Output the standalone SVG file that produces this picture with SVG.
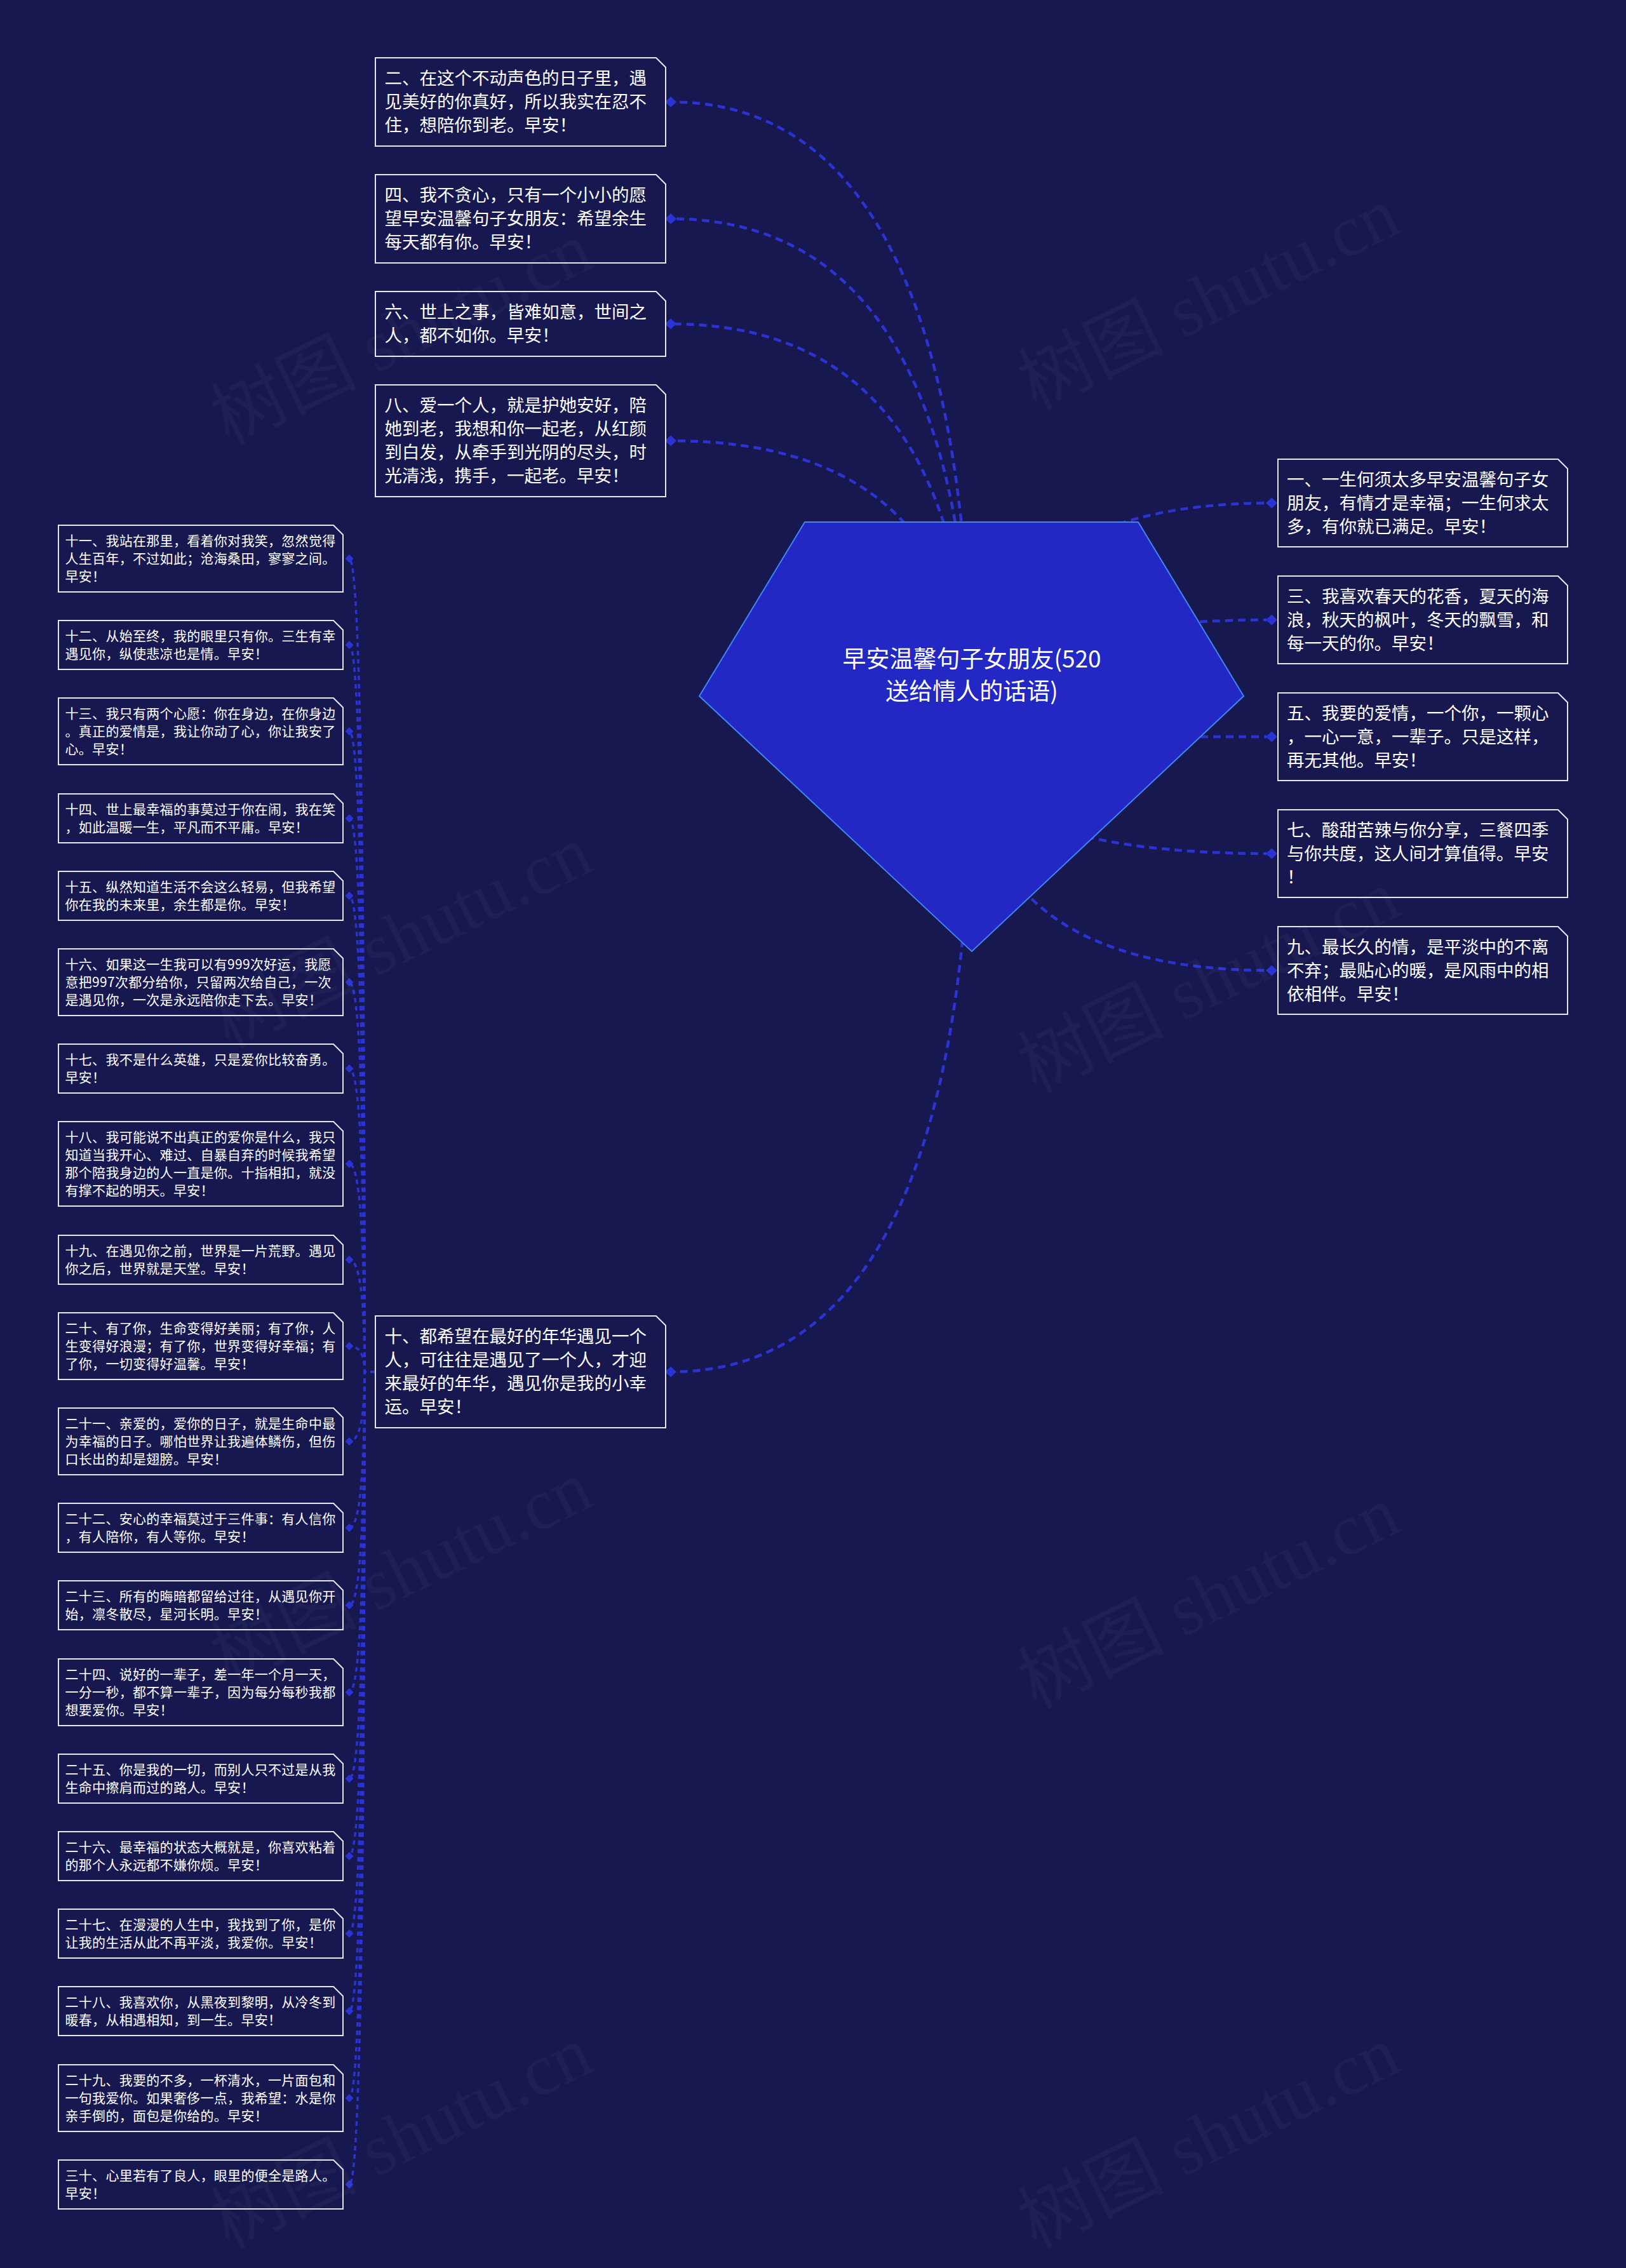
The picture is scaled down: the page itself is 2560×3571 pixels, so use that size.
<svg xmlns="http://www.w3.org/2000/svg" width="2560" height="3571" viewBox="0 0 2560 3571">
<defs>
<style>
.bg{fill:#17184f}
.c{fill:none;stroke:#2b33d2;stroke-width:4.5;stroke-dasharray:12 8}
.cs{fill:none;stroke:#2b33d2;stroke-width:3.5;stroke-dasharray:7 6}
.box{fill:#17184f;stroke:#e6e6ee;stroke-width:2}
.t{font-family:"Noto Sans CJK SC","Noto Sans",sans-serif;fill:#ffffff}
.tb{font-size:27.5px}
.ts{font-size:21px;letter-spacing:0.3px}
.tc{font-size:37px;text-anchor:middle}
.dm{fill:#2b33d2}
.wm{font-family:"Liberation Serif","Noto Sans CJK SC",serif;font-size:115px;fill:#ffffff;fill-opacity:0.03;text-anchor:middle}
</style>
<path id="db" d="M-9,0L0,-8.5L9,0L0,8.5Z"/>
<path id="ds" d="M-6.5,0L0,-6.5L6.5,0L0,6.5Z"/>
</defs>
<rect class="bg" x="0" y="0" width="2560" height="3571"/>

<g id="connectors">
<path class="c" d="M1530,1160 Q1530,160.5 1056,160.5"/>
<path class="c" d="M1530,1160 Q1530,344.5 1056,344.5"/>
<path class="c" d="M1530,1160 Q1530,510 1056,510"/>
<path class="c" d="M1530,1160 Q1530,694 1056,694"/>
<path class="c" d="M1530,1160 Q1530,2160 1056,2160"/>
<path class="c" d="M1530,1160 Q1530,792 2002,792"/>
<path class="c" d="M1530,1160 Q1530,976 2002,976"/>
<path class="c" d="M1530,1160 L2002,1160"/>
<path class="c" d="M1530,1160 Q1530,1344 2002,1344"/>
<path class="c" d="M1530,1160 Q1530,1528 2002,1528"/>
<path class="cs" d="M590,2160 L574,2160 Q574,879.5 550,879.5"/>
<path class="cs" d="M590,2160 L574,2160 Q574,1015.5 550,1015.5"/>
<path class="cs" d="M590,2160 L574,2160 Q574,1151.5 550,1151.5"/>
<path class="cs" d="M590,2160 L574,2160 Q574,1288.5 550,1288.5"/>
<path class="cs" d="M590,2160 L574,2160 Q574,1410.5 550,1410.5"/>
<path class="cs" d="M590,2160 L574,2160 Q574,1546.5 550,1546.5"/>
<path class="cs" d="M590,2160 L574,2160 Q574,1682.5 550,1682.5"/>
<path class="cs" d="M590,2160 L574,2160 Q574,1832.5 550,1832.5"/>
<path class="cs" d="M590,2160 L574,2160 Q574,1983.5 550,1983.5"/>
<path class="cs" d="M590,2160 L574,2160 Q574,2119.5 550,2119.5"/>
<path class="cs" d="M590,2160 L574,2160 Q574,2269.5 550,2269.5"/>
<path class="cs" d="M590,2160 L574,2160 Q574,2405.5 550,2405.5"/>
<path class="cs" d="M590,2160 L574,2160 Q574,2527.5 550,2527.5"/>
<path class="cs" d="M590,2160 L574,2160 Q574,2664.5 550,2664.5"/>
<path class="cs" d="M590,2160 L574,2160 Q574,2800.5 550,2800.5"/>
<path class="cs" d="M590,2160 L574,2160 Q574,2922.5 550,2922.5"/>
<path class="cs" d="M590,2160 L574,2160 Q574,3044.5 550,3044.5"/>
<path class="cs" d="M590,2160 L574,2160 Q574,3166.5 550,3166.5"/>
<path class="cs" d="M590,2160 L574,2160 Q574,3303.5 550,3303.5"/>
<path class="cs" d="M590,2160 L574,2160 Q574,3439.5 550,3439.5"/>
<g class="dm">
<use href="#db" x="1056" y="160.5"/>
<use href="#db" x="1056" y="344.5"/>
<use href="#db" x="1056" y="510"/>
<use href="#db" x="1056" y="694"/>
<use href="#db" x="1056" y="2160"/>
<use href="#db" x="2002" y="792"/>
<use href="#db" x="2002" y="976"/>
<use href="#db" x="2002" y="1160"/>
<use href="#db" x="2002" y="1344"/>
<use href="#db" x="2002" y="1528"/>
<use href="#ds" x="550" y="879.5"/>
<use href="#ds" x="550" y="1015.5"/>
<use href="#ds" x="550" y="1151.5"/>
<use href="#ds" x="550" y="1288.5"/>
<use href="#ds" x="550" y="1410.5"/>
<use href="#ds" x="550" y="1546.5"/>
<use href="#ds" x="550" y="1682.5"/>
<use href="#ds" x="550" y="1832.5"/>
<use href="#ds" x="550" y="1983.5"/>
<use href="#ds" x="550" y="2119.5"/>
<use href="#ds" x="550" y="2269.5"/>
<use href="#ds" x="550" y="2405.5"/>
<use href="#ds" x="550" y="2527.5"/>
<use href="#ds" x="550" y="2664.5"/>
<use href="#ds" x="550" y="2800.5"/>
<use href="#ds" x="550" y="2922.5"/>
<use href="#ds" x="550" y="3044.5"/>
<use href="#ds" x="550" y="3166.5"/>
<use href="#ds" x="550" y="3303.5"/>
<use href="#ds" x="550" y="3439.5"/>
</g>
</g>

<g id="center">
<polygon points="1267,822 1792,822 1958,1096 1530,1498 1101,1096" fill="#2328c4" stroke="#3f86f5" stroke-width="2"/>
<text class="t tc" x="1530" y="1051">早安温馨句子女朋友(520</text>
<text class="t tc" x="1530" y="1102">送给情人的话语)</text>
</g>

<g id="n2"><path class="box" d="M591,91H1033L1048,106V230H591Z"/>
<text class="t tb" x="605.5" y="133">二、在这个不动声色的日子里，遇</text>
<text class="t tb" x="605.5" y="170">见美好的你真好，所以我实在忍不</text>
<text class="t tb" x="605.5" y="207">住，想陪你到老。早安！</text></g>
<g id="n4"><path class="box" d="M591,275H1033L1048,290V414H591Z"/>
<text class="t tb" x="605.5" y="317">四、我不贪心，只有一个小小的愿</text>
<text class="t tb" x="605.5" y="354">望早安温馨句子女朋友：希望余生</text>
<text class="t tb" x="605.5" y="391">每天都有你。早安！</text></g>
<g id="n6"><path class="box" d="M591,459H1033L1048,474V561H591Z"/>
<text class="t tb" x="605.5" y="501">六、世上之事，皆难如意，世间之</text>
<text class="t tb" x="605.5" y="538">人，都不如你。早安！</text></g>
<g id="n8"><path class="box" d="M591,606H1033L1048,621V782H591Z"/>
<text class="t tb" x="605.5" y="648">八、爱一个人，就是护她安好，陪</text>
<text class="t tb" x="605.5" y="685">她到老，我想和你一起老，从红颜</text>
<text class="t tb" x="605.5" y="722">到白发，从牵手到光阴的尽头，时</text>
<text class="t tb" x="605.5" y="759">光清浅，携手，一起老。早安！</text></g>
<g id="n10"><path class="box" d="M591,2072H1033L1048,2087V2248H591Z"/>
<text class="t tb" x="605.5" y="2114">十、都希望在最好的年华遇见一个</text>
<text class="t tb" x="605.5" y="2151">人，可往往是遇见了一个人，才迎</text>
<text class="t tb" x="605.5" y="2188">来最好的年华，遇见你是我的小幸</text>
<text class="t tb" x="605.5" y="2225">运。早安！</text></g>

<g id="n1"><path class="box" d="M2012,723H2453L2468,738V861H2012Z"/>
<text class="t tb" x="2026" y="764.5">一、一生何须太多早安温馨句子女</text>
<text class="t tb" x="2026" y="801.5">朋友，有情才是幸福；一生何求太</text>
<text class="t tb" x="2026" y="838.5">多，有你就已满足。早安！</text></g>
<g id="n3"><path class="box" d="M2012,907H2453L2468,922V1045H2012Z"/>
<text class="t tb" x="2026" y="948.5">三、我喜欢春天的花香，夏天的海</text>
<text class="t tb" x="2026" y="985.5">浪，秋天的枫叶，冬天的飘雪，和</text>
<text class="t tb" x="2026" y="1022.5">每一天的你。早安！</text></g>
<g id="n5"><path class="box" d="M2012,1091H2453L2468,1106V1229H2012Z"/>
<text class="t tb" x="2026" y="1132.5">五、我要的爱情，一个你，一颗心</text>
<text class="t tb" x="2026" y="1169.5">，一心一意，一辈子。只是这样，</text>
<text class="t tb" x="2026" y="1206.5">再无其他。早安！</text></g>
<g id="n7"><path class="box" d="M2012,1275H2453L2468,1290V1413H2012Z"/>
<text class="t tb" x="2026" y="1316.5">七、酸甜苦辣与你分享，三餐四季</text>
<text class="t tb" x="2026" y="1353.5">与你共度，这人间才算值得。早安</text>
<text class="t tb" x="2026" y="1390.5">！</text></g>
<g id="n9"><path class="box" d="M2012,1459H2453L2468,1474V1597H2012Z"/>
<text class="t tb" x="2026" y="1500.5">九、最长久的情，是平淡中的不离</text>
<text class="t tb" x="2026" y="1537.5">不弃；最贴心的暖，是风雨中的相</text>
<text class="t tb" x="2026" y="1574.5">依相伴。早安！</text></g>

<g id="n11"><path class="box" d="M92,827H525L540,842V932H92Z"/>
<text class="t ts" x="102.5" y="859">十一、我站在那里，看着你对我笑，忽然觉得</text>
<text class="t ts" x="102.5" y="887">人生百年，不过如此；沧海桑田，寥寥之间。</text>
<text class="t ts" x="102.5" y="915">早安！</text></g>
<g id="n12"><path class="box" d="M92,977H525L540,992V1054H92Z"/>
<text class="t ts" x="102.5" y="1009">十二、从始至终，我的眼里只有你。三生有幸</text>
<text class="t ts" x="102.5" y="1037">遇见你，纵使悲凉也是情。早安！</text></g>
<g id="n13"><path class="box" d="M92,1099H525L540,1114V1204H92Z"/>
<text class="t ts" x="102.5" y="1131">十三、我只有两个心愿：你在身边，在你身边</text>
<text class="t ts" x="102.5" y="1159">。真正的爱情是，我让你动了心，你让我安了</text>
<text class="t ts" x="102.5" y="1187">心。早安！</text></g>
<g id="n14"><path class="box" d="M92,1250H525L540,1265V1327H92Z"/>
<text class="t ts" x="102.5" y="1282">十四、世上最幸福的事莫过于你在闹，我在笑</text>
<text class="t ts" x="102.5" y="1310">，如此温暖一生，平凡而不平庸。早安！</text></g>
<g id="n15"><path class="box" d="M92,1372H525L540,1387V1449H92Z"/>
<text class="t ts" x="102.5" y="1404">十五、纵然知道生活不会这么轻易，但我希望</text>
<text class="t ts" x="102.5" y="1432">你在我的未来里，余生都是你。早安！</text></g>
<g id="n16"><path class="box" d="M92,1494H525L540,1509V1599H92Z"/>
<text class="t ts" x="102.5" y="1526">十六、如果这一生我可以有999次好运，我愿</text>
<text class="t ts" x="102.5" y="1554">意把997次都分给你，只留两次给自己，一次</text>
<text class="t ts" x="102.5" y="1582">是遇见你，一次是永远陪你走下去。早安！</text></g>
<g id="n17"><path class="box" d="M92,1644H525L540,1659V1721H92Z"/>
<text class="t ts" x="102.5" y="1676">十七、我不是什么英雄，只是爱你比较奋勇。</text>
<text class="t ts" x="102.5" y="1704">早安！</text></g>
<g id="n18"><path class="box" d="M92,1766H525L540,1781V1899H92Z"/>
<text class="t ts" x="102.5" y="1798">十八、我可能说不出真正的爱你是什么，我只</text>
<text class="t ts" x="102.5" y="1826">知道当我开心、难过、自暴自弃的时候我希望</text>
<text class="t ts" x="102.5" y="1854">那个陪我身边的人一直是你。十指相扣，就没</text>
<text class="t ts" x="102.5" y="1882">有撑不起的明天。早安！</text></g>
<g id="n19"><path class="box" d="M92,1945H525L540,1960V2022H92Z"/>
<text class="t ts" x="102.5" y="1977">十九、在遇见你之前，世界是一片荒野。遇见</text>
<text class="t ts" x="102.5" y="2005">你之后，世界就是天堂。早安！</text></g>
<g id="n20"><path class="box" d="M92,2067H525L540,2082V2172H92Z"/>
<text class="t ts" x="102.5" y="2099">二十、有了你，生命变得好美丽；有了你，人</text>
<text class="t ts" x="102.5" y="2127">生变得好浪漫；有了你，世界变得好幸福；有</text>
<text class="t ts" x="102.5" y="2155">了你，一切变得好温馨。早安！</text></g>
<g id="n21"><path class="box" d="M92,2217H525L540,2232V2322H92Z"/>
<text class="t ts" x="102.5" y="2249">二十一、亲爱的，爱你的日子，就是生命中最</text>
<text class="t ts" x="102.5" y="2277">为幸福的日子。哪怕世界让我遍体鳞伤，但伤</text>
<text class="t ts" x="102.5" y="2305">口长出的却是翅膀。早安！</text></g>
<g id="n22"><path class="box" d="M92,2367H525L540,2382V2444H92Z"/>
<text class="t ts" x="102.5" y="2399">二十二、安心的幸福莫过于三件事：有人信你</text>
<text class="t ts" x="102.5" y="2427">，有人陪你，有人等你。早安！</text></g>
<g id="n23"><path class="box" d="M92,2489H525L540,2504V2566H92Z"/>
<text class="t ts" x="102.5" y="2521">二十三、所有的晦暗都留给过往，从遇见你开</text>
<text class="t ts" x="102.5" y="2549">始，凛冬散尽，星河长明。早安！</text></g>
<g id="n24"><path class="box" d="M92,2612H525L540,2627V2717H92Z"/>
<text class="t ts" x="102.5" y="2644">二十四、说好的一辈子，差一年一个月一天，</text>
<text class="t ts" x="102.5" y="2672">一分一秒，都不算一辈子，因为每分每秒我都</text>
<text class="t ts" x="102.5" y="2700">想要爱你。早安！</text></g>
<g id="n25"><path class="box" d="M92,2762H525L540,2777V2839H92Z"/>
<text class="t ts" x="102.5" y="2794">二十五、你是我的一切，而别人只不过是从我</text>
<text class="t ts" x="102.5" y="2822">生命中擦肩而过的路人。早安！</text></g>
<g id="n26"><path class="box" d="M92,2884H525L540,2899V2961H92Z"/>
<text class="t ts" x="102.5" y="2916">二十六、最幸福的状态大概就是，你喜欢粘着</text>
<text class="t ts" x="102.5" y="2944">的那个人永远都不嫌你烦。早安！</text></g>
<g id="n27"><path class="box" d="M92,3006H525L540,3021V3083H92Z"/>
<text class="t ts" x="102.5" y="3038">二十七、在漫漫的人生中，我找到了你，是你</text>
<text class="t ts" x="102.5" y="3066">让我的生活从此不再平淡，我爱你。早安！</text></g>
<g id="n28"><path class="box" d="M92,3128H525L540,3143V3205H92Z"/>
<text class="t ts" x="102.5" y="3160">二十八、我喜欢你，从黑夜到黎明，从冷冬到</text>
<text class="t ts" x="102.5" y="3188">暖春，从相遇相知，到一生。早安！</text></g>
<g id="n29"><path class="box" d="M92,3251H525L540,3266V3356H92Z"/>
<text class="t ts" x="102.5" y="3283">二十九、我要的不多，一杯清水，一片面包和</text>
<text class="t ts" x="102.5" y="3311">一句我爱你。如果奢侈一点，我希望：水是你</text>
<text class="t ts" x="102.5" y="3339">亲手倒的，面包是你给的。早安！</text></g>
<g id="n30"><path class="box" d="M92,3401H525L540,3416V3478H92Z"/>
<text class="t ts" x="102.5" y="3433">三十、心里若有了良人，眼里的便全是路人。</text>
<text class="t ts" x="102.5" y="3461">早安！</text></g>

<g id="watermark">
<text class="wm" transform="translate(649,560) rotate(-26)">树图 shutu.cn</text>
<text class="wm" transform="translate(1920,505) rotate(-26)">树图 shutu.cn</text>
<text class="wm" transform="translate(649,1510) rotate(-26)">树图 shutu.cn</text>
<text class="wm" transform="translate(1920,1580) rotate(-26)">树图 shutu.cn</text>
<text class="wm" transform="translate(649,2510) rotate(-26)">树图 shutu.cn</text>
<text class="wm" transform="translate(1920,2550) rotate(-26)">树图 shutu.cn</text>
<text class="wm" transform="translate(649,3400) rotate(-26)">树图 shutu.cn</text>
<text class="wm" transform="translate(1920,3400) rotate(-26)">树图 shutu.cn</text>
</g>
</svg>
